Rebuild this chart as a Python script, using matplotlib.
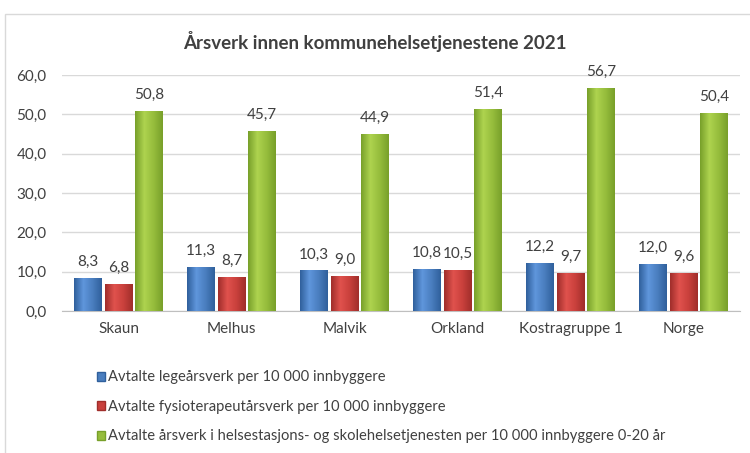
import matplotlib.pyplot as plt
import matplotlib.patches as mpatches
import numpy as np

plt.rcParams['font.family'] = ['Lato', 'DejaVu Sans']

kommuner = ['Skaun', 'Melhus', 'Malvik', 'Orkland', 'Kostragruppe 1', 'Norge']
lege = [8.3, 11.3, 10.3, 10.8, 12.2, 12.0]
fysio = [6.8, 8.7, 9.0, 10.5, 9.7, 9.6]
helsestasjon = [50.8, 45.7, 44.9, 51.4, 56.7, 50.4]
serier = ['Avtalte legeårsverk per 10 000 innbyggere',
          'Avtalte fysioterapeutårsverk per 10 000 innbyggere',
          'Avtalte årsverk i helsestasjons- og skolehelsetjenesten per 10 000 innbyggere 0-20 år']

farger = ['#4a7ebf', '#c9403c', '#96bd3c']
lyse = ['#5f96dc', '#e0524d', '#aed34f']
morke = ['#30609c', '#a02e2b', '#78a02a']

fig = plt.figure(figsize=(7.5, 4.53), dpi=100)
fig.patches.append(mpatches.Rectangle((5 / 750, -0.1), 2, 1 - 14 / 453 + 0.1,
                                      transform=fig.transFigure, fill=False,
                                      edgecolor='#d9d9d9', lw=1))
ax = fig.add_axes([62 / 750, 1 - 311 / 453, 678 / 750, 236 / 453])

x = np.arange(len(kommuner))
w = 0.24
offs = [-0.27, 0.0, 0.27]
for i, vals in enumerate([lege, fysio, helsestasjon]):
    bars = ax.bar(x + offs[i], vals, w, color=farger[i], zorder=2)
    cmap = plt.matplotlib.colors.LinearSegmentedColormap.from_list(
        'g', [morke[i], lyse[i], farger[i], morke[i]])
    grad = np.linspace(0, 1, 64).reshape(1, -1)
    for b, v in zip(bars, vals):
        bx, by = b.get_x(), b.get_y()
        im = ax.imshow(grad, cmap=cmap, aspect='auto', zorder=3,
                       extent=[bx, bx + b.get_width(), by, by + b.get_height()])
        im.set_clip_path(b)
        ax.text(b.get_x() + b.get_width() / 2, v + 2.3, f'{v:.1f}'.replace('.', ','),
                ha='center', va='bottom', fontsize=11, color='#404040', zorder=4)

ax.set_xlim(-0.5, len(kommuner) - 0.5)
ax.set_ylim(0, 60)
ax.set_yticks(range(0, 61, 10))
ax.set_yticklabels([f'{t:.1f}'.replace('.', ',') for t in range(0, 61, 10)])
ax.set_xticks(x)
ax.set_xticklabels(kommuner)
ax.tick_params(length=0, labelsize=11, labelcolor='#404040')
ax.tick_params(axis='x', pad=8)
ax.tick_params(axis='y', pad=11)
ax.grid(axis='y', color='#d9d9d9', lw=1, zorder=0)
for s in ['top', 'right', 'left']:
    ax.spines[s].set_visible(False)
ax.spines['bottom'].set_color('#bfbfbf')

fig.text(0.5, 1 - 42 / 453, 'Årsverk innen kommunehelsetjenestene 2021',
         ha='center', va='center', fontsize=13.5, fontweight='bold', color='#404040')

handles = [mpatches.Patch(facecolor=farger[i], edgecolor=morke[i]) for i in range(3)]
fig.legend(handles, serier, loc='upper left', bbox_to_anchor=(90 / 750, 1 - 363 / 453),
           frameon=False, fontsize=10.6, labelcolor='#404040', handlelength=0.55,
           handleheight=0.55, handletextpad=0.15, labelspacing=1.05, borderpad=0)

fig.savefig('out.png', dpi=100)
